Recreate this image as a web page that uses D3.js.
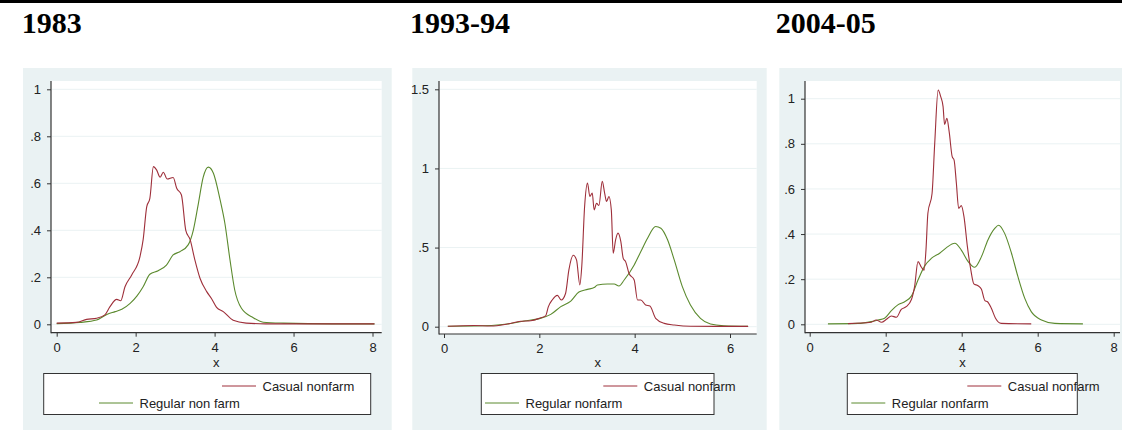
<!DOCTYPE html>
<html>
<head>
<meta charset="utf-8">
<script src="https://cdn.jsdelivr.net/npm/d3@7/dist/d3.min.js"></script>
<style>
  html, body { margin: 0; padding: 0; background: #fff; }
  svg { display: block; }
</style>
</head>
<body>
<svg id="chart" width="1122" height="430"></svg>
<script>
// panel titles and series names
const titles = ["1983", "1993-94", "2004-05"];
const seriesNames = [
  ["Casual nonfarm", "Regular non farm"],
  ["Casual nonfarm", "Regular nonfarm"],
  ["Casual nonfarm", "Regular nonfarm"]
];

// tick values
const xTicks = [[0, 2, 4, 6, 8], [0, 2, 4, 6], [0, 2, 4, 6, 8]];
const yTicks = [[0, .2, .4, .6, .8, 1], [0, .5, 1, 1.5], [0, .2, .4, .6, .8, 1]];

// kernel density estimates, [x, density]
const casual1983 = [[0,.005],[.5,.008],[.76,.021],[1.01,.026],[1.22,.04],[1.35,.075],[1.52,.106],[1.62,.1],
  [1.73,.16],[1.9,.21],[2.11,.288],[2.19,.36],[2.28,.5],[2.36,.536],[2.45,.671],[2.53,.657],[2.62,.626],
  [2.7,.647],[2.8,.618],[2.95,.625],[3.04,.579],[3.16,.55],[3.27,.4],[3.38,.36],[3.5,.274],[3.63,.196],
  [3.8,.139],[3.92,.11],[4.05,.072],[4.22,.054],[4.47,.017],[4.8,.005],[5.3,.002],[6.5,.002],[8.05,.002]];
const regular1983 = [[0,.003],[.59,.008],[1.01,.018],[1.27,.042],[1.48,.054],[1.65,.064],[1.86,.089],
  [2.03,.12],[2.19,.16],[2.36,.213],[2.57,.228],[2.78,.252],[2.95,.295],[3.12,.309],[3.33,.338],[3.46,.4],
  [3.59,.515],[3.71,.625],[3.84,.669],[3.97,.643],[4.14,.529],[4.26,.43],[4.39,.274],[4.51,.146],
  [4.68,.068],[4.98,.028],[5.23,.009],[5.74,.005],[7,.002],[8.05,.002]];

const casual1993 = [[.08,.003],[.63,.008],[.98,.004],[1.33,.017],[1.61,.034],[1.82,.038],[2,.053],
  [2.13,.068],[2.19,.127],[2.27,.169],[2.38,.198],[2.46,.169],[2.55,.21],[2.62,.359],[2.71,.451],
  [2.78,.422],[2.85,.264],[2.89,.38],[2.95,.759],[3.01,.907],[3.06,.823],[3.11,.844],[3.15,.738],
  [3.2,.78],[3.25,.766],[3.32,.918],[3.37,.844],[3.41,.791],[3.46,.823],[3.51,.738],[3.55,.464],
  [3.6,.549],[3.65,.591],[3.71,.538],[3.76,.432],[3.81,.411],[3.88,.338],[3.99,.295],[4.06,.169],
  [4.13,.169],[4.23,.137],[4.32,.131],[4.44,.053],[4.62,.021],[4.83,.011],[5.17,.003],[6.38,.002]];
const regular1993 = [[.08,.003],[.63,.004],[1.33,.017],[1.68,.036],[2,.051],[2.24,.078],[2.45,.127],
  [2.66,.162],[2.83,.219],[3.01,.236],[3.15,.247],[3.22,.264],[3.43,.27],[3.57,.27],[3.67,.257],
  [3.78,.295],[3.99,.39],[4.13,.475],[4.27,.559],[4.44,.633],[4.55,.622],[4.69,.549],[4.83,.422],
  [5,.253],[5.17,.137],[5.38,.053],[5.59,.017],[5.87,.006],[6.38,.002]];

const casual2004 = [[1.01,.003],[1.62,.009],[1.75,.019],[1.89,.009],[2.02,.022],[2.15,.037],[2.28,.031],
  [2.41,.066],[2.54,.078],[2.68,.111],[2.76,.167],[2.85,.278],[2.94,.253],[3.01,.24],[3.06,.33],
  [3.11,.492],[3.22,.58],[3.29,.802],[3.38,1.038],[3.45,1.008],[3.51,.965],[3.55,.886],[3.61,.913],
  [3.67,.854],[3.75,.743],[3.8,.728],[3.86,.625],[3.92,.514],[3.99,.526],[4.06,.477],[4.15,.344],
  [4.24,.241],[4.32,.179],[4.43,.171],[4.52,.155],[4.61,.105],[4.68,.1],[4.78,.071],[4.89,.027],
  [5.04,.004],[5.83,.002]];
const regular2004 = [[.48,.002],[1.27,.004],[1.62,.012],[1.8,.019],[1.97,.027],[2.15,.061],[2.32,.086],
  [2.5,.1],[2.68,.126],[2.85,.196],[3.03,.26],[3.2,.292],[3.42,.315],[3.6,.34],[3.82,.359],[3.99,.329],
  [4.17,.278],[4.34,.253],[4.52,.3],[4.69,.374],[4.87,.425],[4.97,.439],[5.13,.403],[5.31,.315],
  [5.48,.211],[5.66,.115],[5.83,.056],[6.1,.019],[6.45,.004],[7.19,.002]];

const casualSeries = [casual1983, casual1993, casual2004];
const regularSeries = [regular1983, regular1993, regular2004];

// layout of each Stata graph (pixels)
const layout = [
  { titleX: 21.7, bg: [23, 391.7], plot: [51, 381.7, 332.7],
    xr: [56.7, 372.5], yr: [324.3, 89.3], legend: [43.7, 370.7], casLeg: 222, regLeg: 99 },
  { titleX: 410, bg: [412.3, 766.7], plot: [439, 756.7, 334],
    xr: [444, 730], yr: [326.7, 89.3], legend: [481.3, 714], casLeg: 603.3, regLeg: 485 },
  { titleX: 775.7, bg: [779.3, 1122], plot: [805, 1120, 332.7],
    xr: [809.7, 1113.7], yr: [324.3, 98.7], legend: [847.3, 1077.3], casLeg: 967.3, regLeg: 851.3 }
];

const BG = "#eaf2f3", RED = "#9e2f3a", GREEN = "#5b8a2e";
const statFmt = d => d === 0 ? "0" : String(d).replace(/^0\./, ".");

const svg = d3.select("#chart");

// heavy rule on top
svg.append("rect").attr("x", 0).attr("y", 0).attr("width", 1122).attr("height", 3).attr("fill", "#000");

titles.forEach((t, i) => {
  const L = layout[i];
  const g = svg.append("g");

  g.append("text")
    .attr("x", L.titleX).attr("y", 32.5)
    .attr("font-family", "'Liberation Serif', 'Times New Roman', serif")
    .attr("font-weight", "bold").attr("font-size", "30px")
    .text(t);

  // graph region and plot region
  g.append("rect").attr("x", L.bg[0]).attr("y", 68)
    .attr("width", L.bg[1] - L.bg[0]).attr("height", 362).attr("fill", BG);
  const top = 81, left = L.plot[0], right = L.plot[1], bottom = L.plot[2];
  g.append("rect").attr("x", left).attr("y", top)
    .attr("width", right - left).attr("height", bottom - top).attr("fill", "#fff");

  const x = d3.scaleLinear().domain([xTicks[i][0], xTicks[i][xTicks[i].length - 1]]).range(L.xr);
  const y = d3.scaleLinear().domain([yTicks[i][0], yTicks[i][yTicks[i].length - 1]]).range(L.yr);

  // gridlines
  g.selectAll(".grid").data(yTicks[i]).join("line")
    .attr("x1", left + 1).attr("x2", right)
    .attr("y1", d => y(d)).attr("y2", d => y(d))
    .attr("stroke", BG).attr("stroke-width", 1);

  // density lines
  const line = d3.line().x(d => x(d[0])).y(d => y(d[1])).curve(d3.curveMonotoneX);
  g.append("path").datum(regularSeries[i]).attr("d", line)
    .attr("fill", "none").attr("stroke", GREEN).attr("stroke-width", 1.1);
  g.append("path").datum(casualSeries[i]).attr("d", line)
    .attr("fill", "none").attr("stroke", RED).attr("stroke-width", 1.1);

  // axes
  const font = "'Liberation Sans', Arial, sans-serif";
  const ya = g.append("g").attr("transform", `translate(${left},0)`)
    .call(d3.axisLeft(y).tickValues(yTicks[i]).tickFormat(statFmt).tickSize(4).tickPadding(6));
  const xa = g.append("g").attr("transform", `translate(0,${bottom})`)
    .call(d3.axisBottom(x).tickValues(xTicks[i]).tickFormat(statFmt).tickSize(4).tickPadding(6));
  [ya, xa].forEach(a => {
    a.select(".domain").remove();
    a.selectAll("line").attr("stroke", "#333");
    a.selectAll("text").attr("font-family", font).attr("font-size", "13px").attr("fill", "#222");
  });
  g.append("line").attr("x1", left).attr("x2", left).attr("y1", top).attr("y2", bottom + 0.5)
    .attr("stroke", "#333").attr("stroke-width", 1.2);
  g.append("line").attr("x1", left).attr("x2", right).attr("y1", bottom).attr("y2", bottom)
    .attr("stroke", "#333").attr("stroke-width", 1.2);

  g.append("text").attr("x", (left + right) / 2).attr("y", 367)
    .attr("text-anchor", "middle").attr("font-family", font).attr("font-size", "13px")
    .attr("fill", "#222").text("x");

  // legend
  g.append("rect").attr("x", L.legend[0]).attr("y", 373.5)
    .attr("width", L.legend[1] - L.legend[0]).attr("height", 41)
    .attr("fill", "#fff").attr("stroke", "#333").attr("stroke-width", 1);
  const items = [
    { name: seriesNames[i][0], color: RED, x0: L.casLeg, ly: 386 },
    { name: seriesNames[i][1], color: GREEN, x0: L.regLeg, ly: 403 }
  ];
  items.forEach(it => {
    g.append("line").attr("x1", it.x0).attr("x2", it.x0 + 34)
      .attr("y1", it.ly).attr("y2", it.ly).attr("stroke", it.color).attr("stroke-width", 1);
    g.append("text").attr("x", it.x0 + 40.5).attr("y", it.ly + 4.5)
      .attr("font-family", font).attr("font-size", "13px").attr("fill", "#222")
      .text(it.name);
  });
});
</script>
</body>
</html>
